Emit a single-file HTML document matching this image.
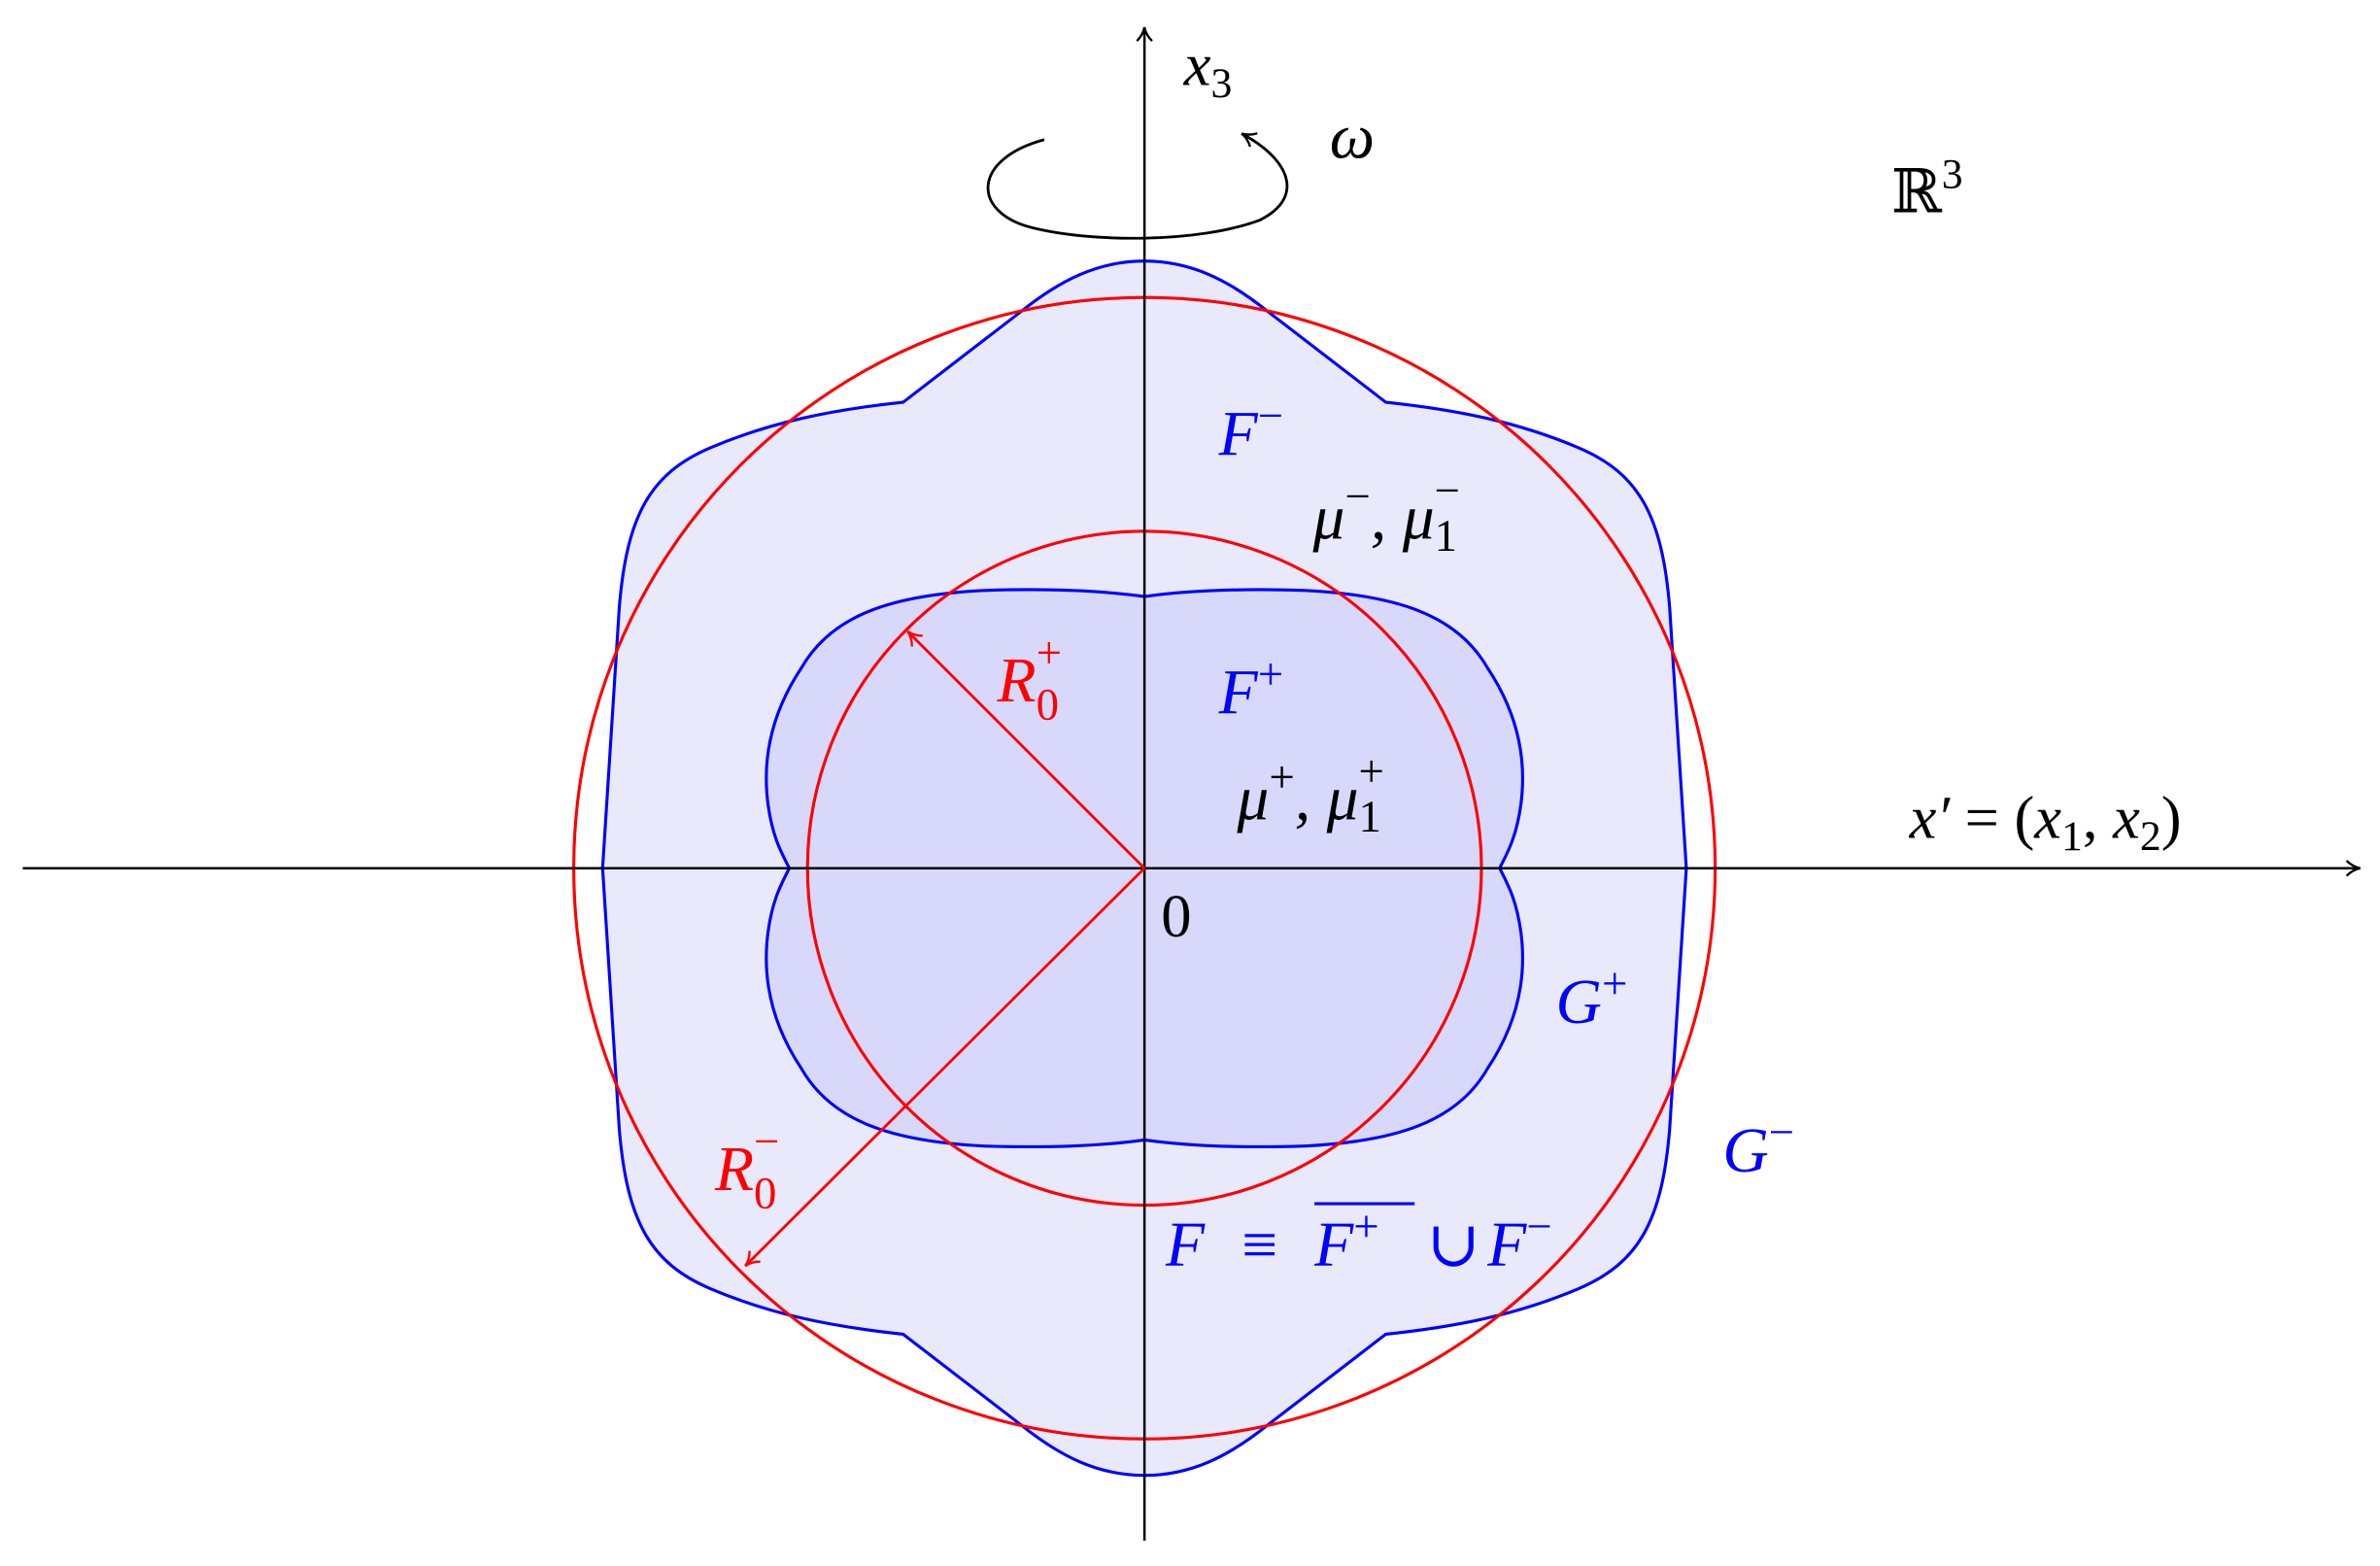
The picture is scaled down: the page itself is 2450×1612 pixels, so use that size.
<!DOCTYPE html>
<html><head><meta charset="utf-8"><style>
html,body{margin:0;padding:0;background:#fff;}
svg{display:block;}
text{font-family:"Liberation Serif","DejaVu Serif",serif;font-style:italic;}
.n{font-style:normal;}
</style></head><body>
<svg width="2450" height="1612" viewBox="0 0 1568 1031.7" xmlns="http://www.w3.org/2000/svg">
<defs>
<marker id="ak" markerWidth="12" markerHeight="12" refX="10" refY="6" orient="auto" markerUnits="userSpaceOnUse">
<path d="M1,1 Q5,5 10,6 Q5,7 1,11" fill="none" stroke="#000" stroke-width="1.5"/></marker>
<marker id="ar" markerWidth="12" markerHeight="12" refX="10" refY="6" orient="auto" markerUnits="userSpaceOnUse">
<path d="M1,1 Q5,5 10,6 Q5,7 1,11" fill="none" stroke="#f00" stroke-width="1.5"/></marker>
</defs>
<path d="M754,172 C785,172 810,185 835,205 L913,265 C960,270 1000,278 1040,295 C1080,312 1095,340 1100,400 L1111,572 L1100,744 C1095,804 1080,832 1040,849 C1000,866 960,874 913,879 L835,939 C810,959 785,972 754,972 C723,972 698,959 673,939 L595,879 C548,874 508,866 468,849 C428,832 413,804 408,744 L397,572 L408,400 C413,340 428,312 468,295 C508,278 548,270 595,265 L673,205 C698,185 723,172 754,172 Z" fill="#e9e9fc" stroke="#0000ff" stroke-width="2"/>
<path d="M754,393 C790,388 830,388 860,389 C920,392 960,405 980,440 C1000,470 1006,500 1002,530 C999,552 993,562 988,572 C993,582 999,592 1002,614 C1006,644 1000,674 980,704 C960,739 920,752 860,755 C830,756 790,756 754,751 C718,756 678,756 648,755 C588,752 548,739 528,704 C508,674 502,644 506,614 C509,592 515,582 520,572 C515,562 509,552 506,530 C502,500 508,470 528,440 C548,405 588,392 648,389 C678,388 718,388 754,393 Z" fill="#d8d8fa" stroke="#0000ff" stroke-width="2"/>
<circle cx="754" cy="572" r="376" fill="none" stroke="#f00" stroke-width="2"/>
<circle cx="754" cy="572" r="222" fill="none" stroke="#f00" stroke-width="2"/>
<line x1="15" y1="572" x2="1555" y2="572" stroke="#000" stroke-width="1.6" marker-end="url(#ak)"/>
<line x1="754" y1="1015" x2="754" y2="18" stroke="#000" stroke-width="1.6" marker-end="url(#ak)"/>
<line x1="754" y1="572" x2="598" y2="416" stroke="#f00" stroke-width="1.8" marker-end="url(#ar)"/>
<line x1="754" y1="572" x2="491" y2="834" stroke="#f00" stroke-width="1.8" marker-end="url(#ar)"/>
<path d="M688,92 C640,105 640,140 680,150 C720,160 790,160 830,145 C860,130 850,105 818,88" fill="none" stroke="#000" stroke-width="1.8" marker-end="url(#ak)"/>
<text x="780" y="56" font-size="40">x<tspan class="n" font-size="28" dy="8">3</tspan></text>
<text x="876" y="104" font-size="42">ω</text>
<text x="1246" y="140" font-size="40" class="n">ℝ<tspan font-size="28" dy="-16">3</tspan></text>
<text x="803" y="300" font-size="42" fill="#0000ff">F<tspan class="n" font-size="30" dy="-16">−</tspan></text>
<text x="865" y="355" font-size="42">μ<tspan class="n" font-size="30" dy="-18">−</tspan><tspan dy="18">, μ</tspan><tspan class="n" font-size="30" dy="8">1</tspan><tspan class="n" font-size="30" dx="-15" dy="-30">−</tspan></text>
<text x="657" y="462" font-size="42" fill="#f00">R<tspan class="n" font-size="30" dy="12">0</tspan><tspan class="n" font-size="30" dx="-15" dy="-34">+</tspan></text>
<text x="803" y="470" font-size="42" fill="#0000ff">F<tspan class="n" font-size="30" dy="-16">+</tspan></text>
<text x="815" y="540" font-size="42">μ<tspan class="n" font-size="30" dy="-18">+</tspan><tspan dy="18">, μ</tspan><tspan class="n" font-size="30" dy="8">1</tspan><tspan class="n" font-size="30" dx="-15" dy="-30">+</tspan></text>
<text x="1258" y="552" font-size="40">x′ <tspan class="n">= (</tspan>x<tspan class="n" font-size="28" dy="8">1</tspan><tspan class="n" dy="-8">, </tspan>x<tspan class="n" font-size="28" dy="8">2</tspan><tspan class="n" dy="-8">)</tspan></text>
<text x="765" y="617" font-size="40" class="n">0</text>
<text x="1025" y="674" font-size="42" fill="#0000ff">G<tspan class="n" font-size="30" dy="-16">+</tspan></text>
<text x="1135" y="772" font-size="42" fill="#0000ff">G<tspan class="n" font-size="30" dy="-16">−</tspan></text>
<text x="471" y="784" font-size="42" fill="#f00">R<tspan class="n" font-size="30" dy="12">0</tspan><tspan class="n" font-size="30" dx="-15" dy="-34">−</tspan></text>
<g fill="#0000ff" font-size="42">
<text x="768" y="834">F</text>
<text x="818" y="834" class="n">≡</text>
<text x="866" y="834">F<tspan class="n" font-size="30" dy="-16">+</tspan></text>
<text x="940" y="834" class="n">∪</text>
<text x="980" y="834">F<tspan class="n" font-size="30" dy="-16">−</tspan></text>
</g>
<line x1="866" y1="793" x2="932" y2="793" stroke="#0000ff" stroke-width="2"/>
</svg>
</body></html>
